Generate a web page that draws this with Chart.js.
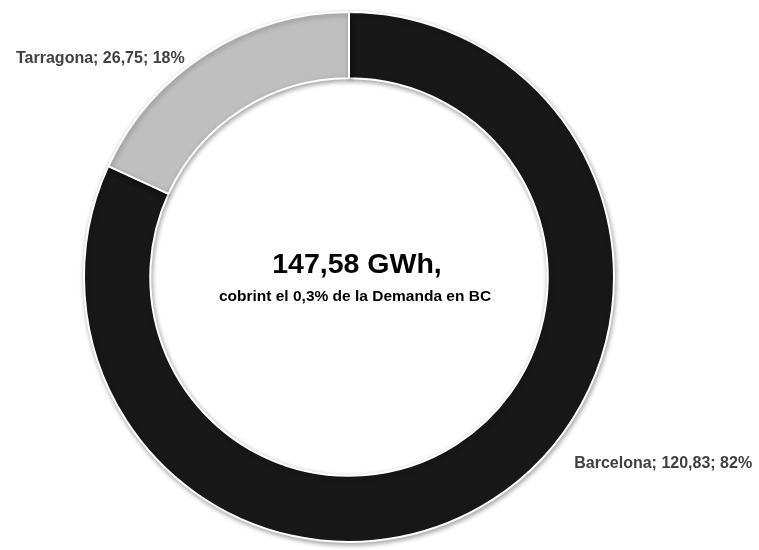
<!DOCTYPE html>
<html>
<head>
<meta charset="utf-8">
<script src="https://cdn.jsdelivr.net/npm/chart.js@4"></script>
<style>
html,body{margin:0;padding:0;background:#fff;}
canvas{display:block;}
</style>
</head>
<body>
<canvas id="c" width="759" height="550"></canvas>
<script>
const categories = ['Barcelona', 'Tarragona'];
const values = [120.83, 26.75];
const colors = ['#181818', '#bfbfbf'];
const centerUnit = 'GWh,';
const centerSubtitle = 'cobrint el 0,3% de la Demanda en BC';

const total = values.reduce((a, b) => a + b, 0);
const fmt = v => v.toFixed(2).replace('.', ',');

const shadowPlugin = {
  id: 'shadow',
  beforeDatasetsDraw(chart) {
    const ctx = chart.ctx;
    ctx.save();
    ctx.shadowColor = 'rgba(0,0,0,0.35)';
    ctx.shadowBlur = 5;
    ctx.shadowOffsetX = 1;
    ctx.shadowOffsetY = 2;
  },
  afterDatasetsDraw(chart) {
    chart.ctx.restore();
  }
};

const labelPlugin = {
  id: 'labels',
  afterDraw(chart) {
    const ctx = chart.ctx;
    const meta = chart.getDatasetMeta(0);
    const arc = meta.data[0];
    const cx = arc.x, cy = arc.y, R = arc.outerRadius;
    ctx.save();
    ctx.textBaseline = 'alphabetic';
    ctx.fillStyle = '#404040';
    ctx.font = 'bold 16px "Liberation Sans", Arial, sans-serif';
    const label = i => categories[i] + '; ' + fmt(values[i]) + '; ' + Math.round(values[i] / total * 100) + '%';
    // Barcelona label (lower right, outside)
    ctx.textAlign = 'left';
    ctx.fillText(label(0), cx + R * 0.85, cy + R * 0.72);
    // Tarragona label (upper left, outside)
    ctx.textAlign = 'right';
    ctx.fillText(label(1), cx - R * 0.62, cy - R * 0.808);
    // Center text
    ctx.fillStyle = '#000';
    ctx.textAlign = 'center';
    ctx.font = 'bold 28.5px "Liberation Sans", Arial, sans-serif';
    ctx.fillText(fmt(total) + ' ' + centerUnit, cx + 8, cy - 4);
    ctx.font = 'bold 15.5px "Liberation Sans", Arial, sans-serif';
    ctx.fillText(centerSubtitle, cx + 6, cy + 24);
    ctx.restore();
  }
};

new Chart(document.getElementById('c'), {
  type: 'doughnut',
  data: {
    labels: categories,
    datasets: [{
      data: values,
      backgroundColor: colors,
      borderColor: '#ffffff',
      borderWidth: 2
    }]
  },
  options: {
    responsive: false,
    animation: false,
    devicePixelRatio: 1,
    cutout: '75%',
    rotation: 0,
    layout: { padding: { top: 11, bottom: 7, left: 83, right: 144 } },
    plugins: {
      legend: { display: false },
      tooltip: { enabled: false }
    }
  },
  plugins: [shadowPlugin, labelPlugin]
});
</script>
</body>
</html>
